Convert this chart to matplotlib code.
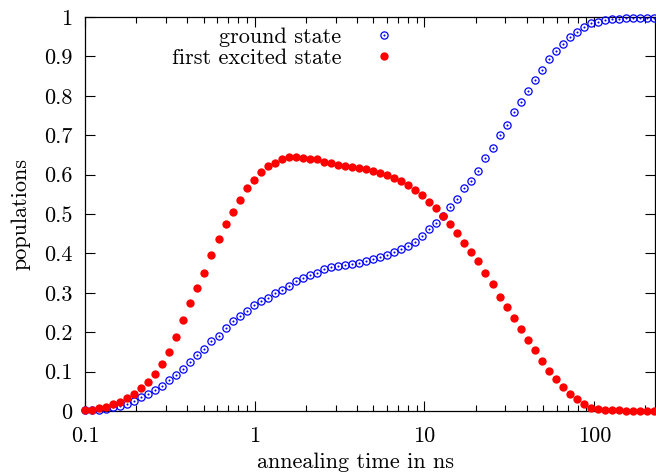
import matplotlib
matplotlib.use("Agg")
import matplotlib.pyplot as plt
from matplotlib.ticker import FixedLocator, LogLocator, NullFormatter

plt.rcParams['font.family'] = ['cmr10', 'DejaVu Serif']
plt.rcParams['axes.formatter.use_mathtext'] = True

time_ns = [0.1, 0.11, 0.121, 0.133, 0.146, 0.161, 0.177, 0.195, 0.214, 0.236,
           0.259, 0.285, 0.314, 0.345, 0.380, 0.418, 0.459, 0.505, 0.556, 0.612,
           0.673, 0.740, 0.814, 0.895, 0.985, 1.083, 1.192, 1.311, 1.442, 1.586,
           1.745, 1.919, 2.111, 2.323, 2.555, 2.810, 3.091, 3.400, 3.740, 4.114,
           4.526, 4.979, 5.476, 6.024, 6.626, 7.289, 8.018, 8.820, 9.702, 10.67,
           11.74, 12.91, 14.20, 15.62, 17.18, 18.90, 20.79, 22.87, 25.16, 27.68,
           30.45, 33.49, 36.84, 40.52, 44.58, 49.03, 53.94, 59.33, 65.26, 71.79,
           78.97, 86.87, 95.55, 105.1, 115.6, 127.2, 139.9, 153.9, 169.3, 186.2,
           204.8, 225.3]

ground = [0.002, 0.002, 0.003, 0.005, 0.009, 0.013, 0.019, 0.025, 0.036, 0.043,
          0.053, 0.064, 0.078, 0.091, 0.107, 0.124, 0.141, 0.158, 0.178, 0.191,
          0.210, 0.229, 0.242, 0.255, 0.270, 0.278, 0.288, 0.299, 0.306, 0.317,
          0.329, 0.337, 0.346, 0.350, 0.360, 0.365, 0.368, 0.371, 0.374, 0.376,
          0.380, 0.386, 0.390, 0.395, 0.404, 0.410, 0.419, 0.428, 0.445, 0.463,
          0.478, 0.496, 0.517, 0.538, 0.567, 0.585, 0.610, 0.641, 0.668, 0.700,
          0.727, 0.758, 0.785, 0.812, 0.839, 0.865, 0.893, 0.913, 0.931, 0.949,
          0.963, 0.975, 0.984, 0.988, 0.992, 0.994, 0.996, 0.997, 0.998, 0.998,
          0.998, 0.998]

excited = [0.002, 0.003, 0.007, 0.011, 0.017, 0.023, 0.033, 0.043, 0.058, 0.073,
           0.093, 0.119, 0.151, 0.188, 0.230, 0.273, 0.312, 0.351, 0.395, 0.437,
           0.475, 0.505, 0.535, 0.565, 0.587, 0.607, 0.622, 0.630, 0.639, 0.644,
           0.644, 0.642, 0.640, 0.639, 0.632, 0.629, 0.625, 0.622, 0.620, 0.616,
           0.613, 0.608, 0.603, 0.598, 0.592, 0.585, 0.573, 0.560, 0.548, 0.530,
           0.515, 0.496, 0.475, 0.453, 0.426, 0.404, 0.380, 0.351, 0.322, 0.290,
           0.265, 0.235, 0.207, 0.180, 0.154, 0.128, 0.101, 0.081, 0.062, 0.043,
           0.030, 0.017, 0.008, 0.005, 0.003, 0.002, 0.0015, 0.001, 0.001, 0.001,
           0.001, 0.001]

x_ticks = [0.1, 1, 10, 100]
x_tick_labels = ["0.1", "1", "10", "100"]
y_ticks = [0, 0.1, 0.2, 0.3, 0.4, 0.5, 0.6, 0.7, 0.8, 0.9, 1]
y_tick_labels = ["0", "0.1", "0.2", "0.3", "0.4", "0.5", "0.6", "0.7", "0.8", "0.9", "1"]

FS = 16

fig = plt.figure(figsize=(6.56, 4.76), dpi=100)
ax = fig.add_axes([85/656, (476-411)/476, (655-85)/656, (411-17)/476])

blue = '#0000ff'
red = '#ff0000'

h1, = ax.plot(time_ns, ground, linestyle='none', marker='o', markersize=5.2,
              markerfacecolor='none', markeredgecolor=blue, markeredgewidth=0.9,
              clip_on=False, zorder=3)
h1d, = ax.plot(time_ns, ground, linestyle='none', marker='o', markersize=1.5,
               markerfacecolor=blue, markeredgecolor=blue, markeredgewidth=0,
               clip_on=False, zorder=3)
h2, = ax.plot(time_ns, excited, linestyle='none', marker='o', markersize=6.0,
              markerfacecolor=red, markeredgecolor=red, markeredgewidth=0,
              clip_on=False, zorder=4)

ax.set_xscale('log')
ax.set_xlim(0.1, 228)
ax.set_ylim(0, 1)

ax.xaxis.set_major_locator(FixedLocator(x_ticks))
ax.set_xticklabels(x_tick_labels)
ax.xaxis.set_minor_locator(LogLocator(base=10, subs=range(2, 10)))
ax.xaxis.set_minor_formatter(NullFormatter())
ax.set_yticks(y_ticks)
ax.set_yticklabels(y_tick_labels)

ax.tick_params(which='both', direction='in', top=True, right=True,
               labelsize=FS, colors='black', width=0.8)
ax.tick_params(which='major', length=7)
ax.tick_params(axis='y', which='major', pad=9)
ax.tick_params(axis='x', which='major', pad=11)
ax.tick_params(which='minor', length=4)
for s in ax.spines.values():
    s.set_linewidth(0.9)

ax.set_xlabel('annealing time in ns', fontsize=FS)
ax.xaxis.set_label_coords(0.475, -0.106)
ax.set_ylabel('populations', fontsize=FS)
ax.yaxis.set_label_coords(-0.095, 0.5)

leg = ax.legend([(h1, h1d), h2], ['ground state', 'first excited state'],
                loc='upper right', bbox_to_anchor=(0.571, 1.007),
                markerfirst=False, frameon=False, fontsize=FS,
                handlelength=1.2, handletextpad=1.3, labelspacing=0.05,
                borderaxespad=0.2)
for t in leg.get_texts():
    t.set_ha('right')

fig.savefig('out.png', dpi=100)
